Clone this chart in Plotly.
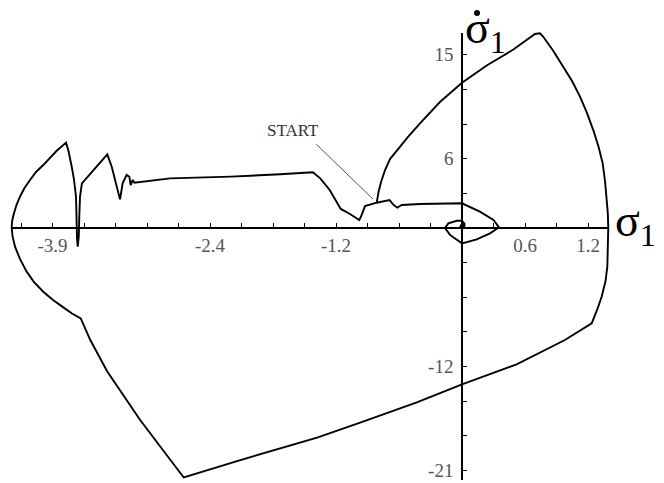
import numpy as np
import plotly.graph_objects as go

# Phase trajectory (sigma_1, d sigma_1 / dt), listed from the start point onward
sigma = [
    -0.812, -0.795, -0.771, -0.733, -0.686, -0.610, -0.514, -0.40, -0.21, -0.003,
    0.235, 0.489, 0.695, 0.743, 0.774, 0.867, 0.965, 1.048, 1.124, 1.190, 1.25, 1.30,
    1.34, 1.362, 1.378, 1.389, 1.393, 1.392, 1.384, 1.367, 1.330, 1.29, 1.245, 1.235,
    0.98, 0.52, 0.0, -0.43, -0.97, -1.38, -2.15, -2.65, -2.876, -3.067, -3.38, -3.54,
    -3.631, -3.714, -3.797, -3.895, -3.988, -4.076, -4.146, -4.21, -4.257, -4.281,
    -4.289, -4.283, -4.267, -4.243, -4.21, -4.167, -4.114, -4.057, -3.988, -3.924,
    -3.86, -3.771, -3.75, -3.717, -3.695, -3.676, -3.673, -3.667, -3.66, -3.65, -3.645,
    -3.638, -3.62, -3.567, -3.479, -3.378, -3.336, -3.305, -3.257, -3.232, -3.194,
    -3.168, -3.156, -3.136, -3.12, -2.78, -2.2, -1.73, -1.54, -1.42, -1.35, -1.26,
    -1.155, -1.067, -0.978, -0.955, -0.924, -0.845, -0.812, -0.69, -0.65, -0.616,
    -0.574, -0.40, 0.0, 0.17, 0.30, 0.352, 0.267, 0.14, 0.0, -0.114, -0.162, -0.13,
    -0.05, 0.0, 0.025, 0.02, 0.0, -0.015, 0.0, 0.012, 0.0,
]
sigma_dot = [
    2.19, 3.12, 3.98, 5.02, 5.97, 6.84, 7.88, 9.05, 10.91, 12.55,
    14.07, 15.45, 16.80, 16.86, 16.56, 15.37, 13.97, 12.73, 11.37, 9.96, 8.48, 7.06,
    5.60, 4.07, 2.42, 1.21, -0.03, -1.47, -3.35, -4.59, -5.95, -7.01, -7.97, -8.25,
    -9.7, -11.8, -13.53, -15.1, -16.85, -18.15, -20.2, -21.6, -18.9, -16.6, -12.4, -9.7,
    -7.82, -7.40, -6.87, -6.23, -5.52, -4.68, -3.78, -2.68, -1.62, -0.69,
    0.11, 0.69, 1.27, 1.99, 2.71, 3.46, 4.16, 4.85, 5.45, 6.10,
    6.69, 7.39, 6.75, 5.31, 4.16, 2.71, 0.98, -0.75, -1.62, -0.75, 0.98,
    2.71, 3.87, 4.44, 5.37, 6.38, 5.31, 4.16, 2.48, 3.87, 4.59,
    4.44, 3.72, 4.16, 3.92, 4.30, 4.45, 4.65, 4.73, 4.82, 4.30, 3.29,
    1.65, 1.21, 0.69, 1.13, 1.9, 2.14, 2.19, 2.42, 1.99, 1.76,
    1.99, 2.08, 2.14, 1.41, 0.69, 0.06, -0.46, -0.98, -1.33, -0.6, 0.0, 0.4,
    0.63, 0.63, 0.35, 0.05, -0.05, 0.15, 0.35, 0.2, 0.1,
]

x_ticks = [-3.9, -2.4, -1.2, 0.6, 1.2]
x_tick_labels = ["-3.9", "-2.4", "-1.2", "0.6", "1.2"]
y_ticks = [15, 6, -12, -21]
y_tick_labels = ["15", "6", "-12", "-21"]

# page geometry: where the origin sits and how many pixels one unit spans
W, H = 664, 483
X0, SX = 462.0, 105.0
Y0, SY = 228.0, 11.55
AX_LEFT, AX_RIGHT = 12.0, 608.0
AX_TOP, AX_BOTTOM = 33.0, 480.0

def xv(px):
    return (px - X0) / SX

def yv(py):
    return (Y0 - py) / SY

SERIF = "Liberation Serif, Times New Roman, serif"

fig = go.Figure()
fig.add_trace(go.Scatter(
    x=sigma, y=sigma_dot, mode="lines",
    line=dict(color="black", width=1.9),
    hoverinfo="skip", showlegend=False,
))
# empty trace that owns the crossing axes
fig.add_trace(go.Scatter(x=[], y=[], xaxis="x2", yaxis="y2",
                         showlegend=False, hoverinfo="skip"))

axis_common = dict(
    showline=True, linecolor="black", linewidth=1.6,
    showgrid=False, zeroline=False,
    ticks="inside", ticklen=4, tickwidth=1.2, tickcolor="black",
    tickfont=dict(family=SERIF, size=19, color="#555555"),
    tickmode="array",
)

fig.update_layout(
    width=W, height=H,
    margin=dict(l=0, r=0, t=0, b=0),
    paper_bgcolor="white", plot_bgcolor="rgba(0,0,0,0)",
    xaxis=dict(domain=[0, 1], range=[xv(0), xv(W)], visible=False, fixedrange=True),
    yaxis=dict(domain=[0, 1], range=[yv(H), yv(0)], visible=False, fixedrange=True),
    xaxis2=dict(
        domain=[AX_LEFT / W, AX_RIGHT / W], range=[xv(AX_LEFT), xv(AX_RIGHT)],
        anchor="free", position=1 - Y0 / H,
        tickvals=x_ticks, ticktext=x_tick_labels, ticklabelstandoff=0,
        minor=dict(tick0=0, dtick=0.3, ticks="inside", ticklen=4,
                   tickwidth=1.2, tickcolor="black"),
        **axis_common,
    ),
    yaxis2=dict(
        domain=[1 - AX_BOTTOM / H, 1 - AX_TOP / H], range=[yv(AX_BOTTOM), yv(AX_TOP)],
        anchor="free", position=X0 / W,
        tickvals=y_ticks, ticktext=y_tick_labels, ticklabelstandoff=4,
        minor=dict(tick0=0, dtick=3, ticks="inside", ticklen=4,
                   tickwidth=1.2, tickcolor="black"),
        **axis_common,
    ),
)

# axis names
fig.add_annotation(x=xv(613), y=yv(224), xref="x", yref="y",
                   text="σ<sub>1</sub>", showarrow=False,
                   xanchor="left", yanchor="middle",
                   font=dict(family=SERIF, size=46, color="black"))
fig.add_annotation(x=xv(463), y=yv(0), xref="x", yref="y",
                   text="σ<sub>1</sub>", showarrow=False,
                   xanchor="left", yanchor="top",
                   font=dict(family=SERIF, size=46, color="black"))
# time-derivative dot over the vertical axis name
fig.add_shape(type="circle", xref="x", yref="y",
              x0=xv(474.0), x1=xv(480.0), y0=yv(16.0), y1=yv(10.0),
              fillcolor="black", line=dict(width=0))

# START callout pointing at the first point of the trajectory
fig.add_annotation(x=xv(293), y=yv(130), xref="x", yref="y",
                   text="START", showarrow=False,
                   font=dict(family=SERIF, size=17, color="#333333"))
fig.add_annotation(x=sigma[0], y=sigma_dot[0], xref="x", yref="y",
                   ax=-62, ay=-60, text="", showarrow=True,
                   arrowhead=0, arrowwidth=1, arrowcolor="#555555", standoff=5)

fig.write_html("out.html")
